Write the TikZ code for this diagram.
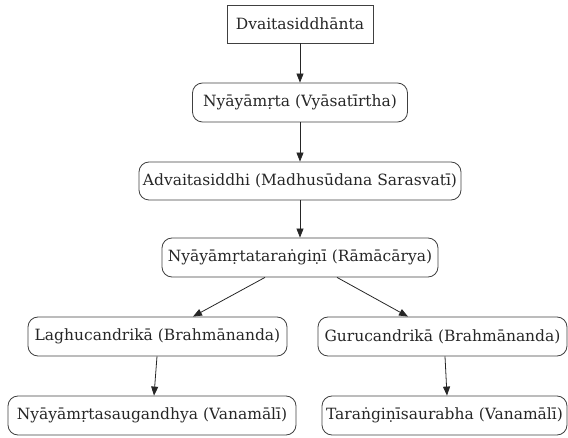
\documentclass[tikz,border=0pt]{standalone}
\usepackage{fontspec}
\setmainfont{DejaVu Serif}
\usetikzlibrary{arrows.meta,calc}
\begin{document}
\begin{tikzpicture}[x=1pt,y=1pt,
  every node/.style={font=\fontsize{15.5}{18}\selectfont, text=black!85, inner sep=0pt},
  sqbox/.style={draw=black!75, line width=0.8pt, rectangle, minimum height=38pt},
  rbox/.style={draw=black!75, line width=0.8pt, rectangle, rounded corners=10pt, minimum height=39pt},
  arr/.style={draw=black!85, line width=0.8pt, -{Triangle[length=9pt,width=7pt]}}]
\useasboundingbox (0,0) rectangle (568,-438);
\node[sqbox, minimum width=146pt] (dv) at (300,-24) {Dvaitasiddhānta};
\node[rbox, minimum width=215pt] (ny) at (300,-102.5) {Nyāyāmṛta (Vyāsatīrtha)};
\node[rbox, minimum width=322pt, minimum height=38pt] (ad) at (300,-181) {Advaitasiddhi (Madhusūdana Sarasvatī)};
\node[rbox, minimum width=276pt] (tr) at (300,-257.5) {Nyāyāmṛtataraṅgiṇī (Rāmācārya)};
\node[rbox, minimum width=259pt] (la) at (157.5,-336.5) {Laghucandrikā (Brahmānanda)};
\node[rbox, minimum width=249pt] (gu) at (442.5,-336.5) {Gurucandrikā (Brahmānanda)};
\node[rbox, minimum width=288pt] (ns) at (152,-415.5) {Nyāyāmṛtasaugandhya (Vanamālī)};
\node[rbox, minimum width=245pt] (ts) at (444.5,-415.5) {Taraṅgiṇīsaurabha (Vanamālī)};
\draw[arr] (dv) -- (ny);
\draw[arr] (ny) -- (ad);
\draw[arr] (ad) -- (tr);
\draw[arr] ($(tr.south)+(-35,0)$) -- ($(la.north)+(35.5,0)$);
\draw[arr] ($(tr.south)+(37,0)$) -- ($(gu.north)+(-34.5,0)$);
\draw[arr] ($(la.south)+(-0.5,0)$) -- ($(ns.north)+(2,0)$);
\draw[arr] ($(gu.south)+(2.5,0)$) -- ($(ts.north)+(2.5,0)$);
\end{tikzpicture}
\end{document}
